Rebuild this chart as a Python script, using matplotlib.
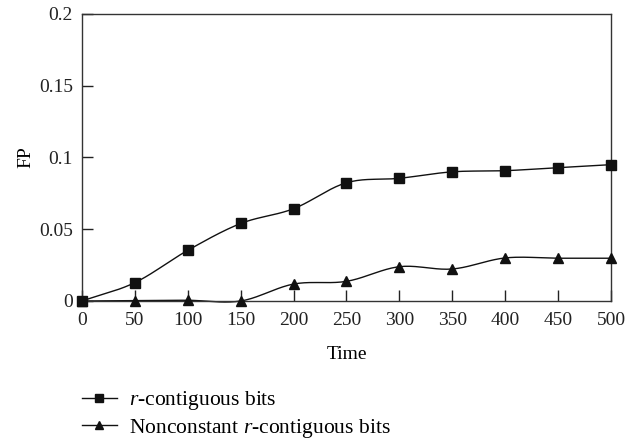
import matplotlib
matplotlib.use('Agg')
import matplotlib.pyplot as plt
import numpy as np

plt.rcParams['font.family'] = ['Liberation Serif', 'DejaVu Serif']
plt.rcParams['mathtext.fontset'] = 'custom'
plt.rcParams['mathtext.it'] = 'Liberation Serif:italic'
plt.rcParams['mathtext.rm'] = 'Liberation Serif'

time = [0, 50, 100, 150, 200, 250, 300, 350, 400, 450, 500]
fp_contig = [0.0, 0.0128, 0.0353, 0.054, 0.0643, 0.0824, 0.0855, 0.090, 0.0908, 0.0929, 0.095]
fp_nonconst = [0.0, 0.0003, 0.0005, 0.0, 0.0118, 0.0137, 0.0239, 0.0223, 0.030, 0.0298, 0.0298]


def smooth(x, y, n=20):
    # catmull-rom curve through the points, only for drawing the line
    x = np.asarray(x, float)
    y = np.asarray(y, float)
    px = np.concatenate([[2 * x[0] - x[1]], x, [2 * x[-1] - x[-2]]])
    py = np.concatenate([[2 * y[0] - y[1]], y, [2 * y[-1] - y[-2]]])
    xs, ys = [], []
    t = np.linspace(0, 1, n, endpoint=False)
    for i in range(1, len(px) - 2):
        for p, out in ((px, xs), (py, ys)):
            p0, p1, p2, p3 = p[i - 1], p[i], p[i + 1], p[i + 2]
            out.extend(0.5 * (2 * p1 + (-p0 + p2) * t
                              + (2 * p0 - 5 * p1 + 4 * p2 - p3) * t ** 2
                              + (-p0 + 3 * p1 - 3 * p2 + p3) * t ** 3))
    xs.append(x[-1])
    ys.append(y[-1])
    return xs, ys


fig = plt.figure(figsize=(6.43, 4.38), dpi=100)
ax = fig.add_axes([0.1275, 0.3128, 0.8227, 0.6553])

for y, mk, ms, lab in ((fp_contig, 's', 6.5, '$r$-contiguous bits'),
                       (fp_nonconst, '^', 7, 'Nonconstant $r$-contiguous bits')):
    sx, sy = smooth(time, y)
    ax.plot(sx, sy, '-', c='#111111', linewidth=1.0, clip_on=False)
    ax.plot(time, y, mk, c='#111111', markersize=ms, linestyle='none', clip_on=False, zorder=4)
    ax.plot([], [], '-', marker=mk, c='#111111', markersize=ms - 1, linewidth=1.0, label=lab)

ax.set_xlim(0, 500)
ax.set_ylim(0, 0.2)
ax.set_xticks(time)
ax.set_yticks([0, 0.05, 0.1, 0.15, 0.2])
ax.set_yticklabels(['0', '0.05', '0.1', '0.15', '0.2'])
ax.tick_params(direction='in', length=8, width=1, labelsize=14, colors='#222222')
ax.tick_params(axis='x', pad=8)
ax.tick_params(axis='y', pad=6.5)
for s in ax.spines.values():
    s.set_linewidth(1.0)
    s.set_color('#333333')
ax.set_xlabel('Time', fontsize=14, labelpad=12)
ax.set_ylabel('FP', fontsize=14, labelpad=3.5)

fig.legend(loc='upper left', bbox_to_anchor=(0.114, 0.131), frameon=False,
           fontsize=15.5, handlelength=1.63, handletextpad=0.56, labelspacing=0.2,
           borderaxespad=0)

plt.savefig('out.png', dpi=100)
